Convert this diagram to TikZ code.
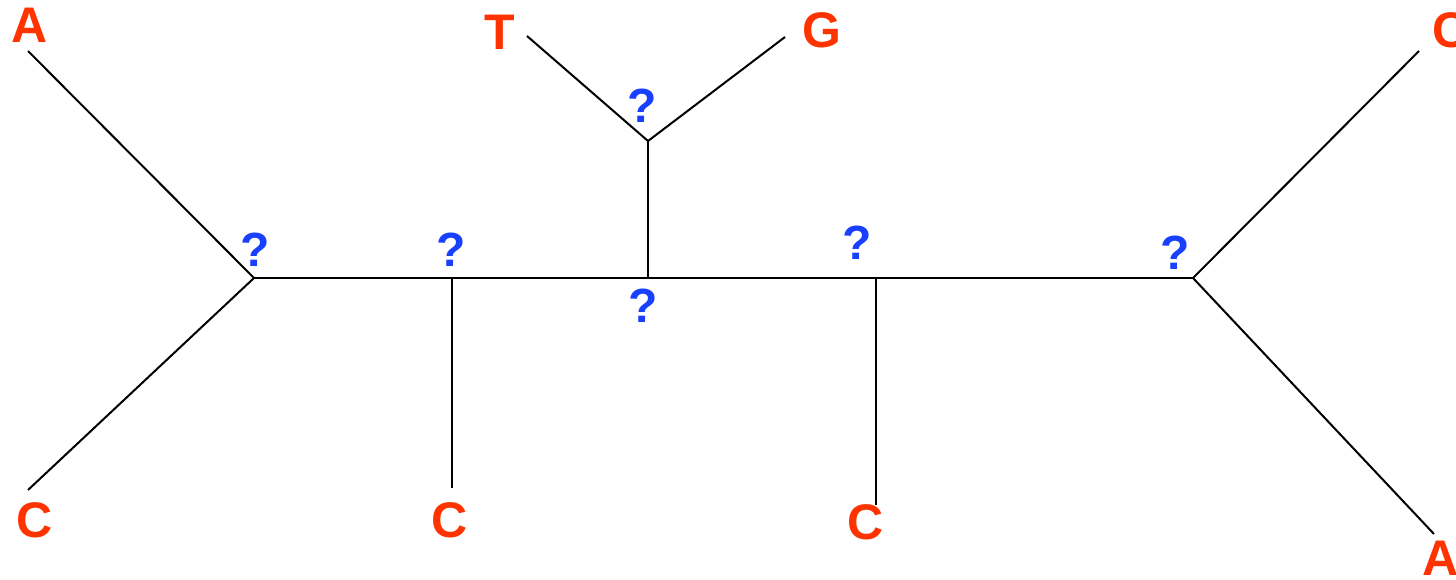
\documentclass[tikz,border=0pt]{standalone}
\usepackage{fontspec}
\setmainfont{Liberation Sans}
\definecolor{lblred}{RGB}{255,51,0}
\definecolor{qblue}{RGB}{26,64,255}
\begin{document}
\begin{tikzpicture}[x=0.5pt,y=-0.5pt,
  edge/.style={draw=black,line width=1pt},
  leaf/.style={text=lblred,font=\fontsize{25}{25}\selectfont\bfseries,inner sep=0pt,anchor=center},
  qm/.style={text=qblue,font=\fontsize{24}{24}\selectfont\bfseries,inner sep=0pt,anchor=center}]
\useasboundingbox (0,0) rectangle (1456,579);
% internal junctions
\coordinate (j1) at (254,278);
\coordinate (j2) at (452,278);
\coordinate (j3) at (648,278);
\coordinate (j3t) at (648,141);
\coordinate (j4) at (876,278);
\coordinate (j5) at (1193,278);
% free ends
\coordinate (eA1) at (28,51);
\coordinate (eC1) at (28,490);
\coordinate (eC2) at (452,488);
\coordinate (eT) at (527,36);
\coordinate (eG) at (785,37);
\coordinate (eC3) at (876,505);
\coordinate (eC4) at (1419,51);
\coordinate (eA2) at (1434,534);
% edges
\draw[edge] (eA1) -- (j1) -- (eC1);
\draw[edge] (j1) -- (j2) -- (j3) -- (j4) -- (j5);
\draw[edge] (j2) -- (eC2);
\draw[edge] (j3) -- (j3t);
\draw[edge] (eT) -- (j3t) -- (eG);
\draw[edge] (j4) -- (eC3);
\draw[edge] (eC4) -- (j5) -- (eA2);
% leaf labels
\node[leaf] (lA1) at (30,25) {A};
\node[leaf] (lC1) at (35,520) {C};
\node[leaf] (lC2) at (450,520) {C};
\node[leaf] (lT) at (500,32) {T};
\node[leaf] (lG) at (822,30) {G};
\node[leaf] (lC3) at (866,522) {C};
\node[leaf] (lC4) at (1451,30) {C};
\node[leaf] (lA2) at (1441,558) {A};
% question marks
\node[qm] (q1) at (255,250) {?};
\node[qm] (q2) at (451,250) {?};
\node[qm] (q3) at (642,106) {?};
\node[qm] (q4) at (643,306) {?};
\node[qm] (q5) at (857,243) {?};
\node[qm] (q6) at (1175,253) {?};
\end{tikzpicture}
\end{document}
